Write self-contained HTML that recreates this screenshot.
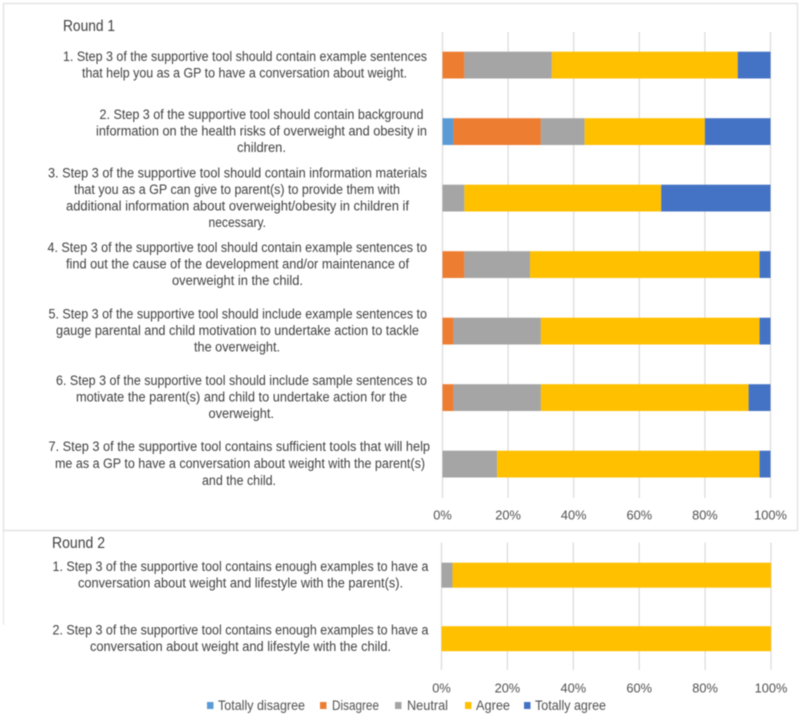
<!DOCTYPE html>
<html lang="en">
<head>
<meta charset="utf-8">
<title>Round 1 and Round 2 supportive tool survey responses</title>
<style>
html,body{margin:0;padding:0;background:#fff;}
body{width:800px;height:718px;overflow:hidden;}
svg{display:block;filter:blur(0.4px);}
text{font-family:"Liberation Sans",sans-serif;fill:#404040;}
.q{font-size:13.4px;}
.t{font-size:15.5px;}
.tick{font-size:12.8px;fill:#505050;text-anchor:middle;}
.leg{font-size:13.6px;fill:#505050;}
</style>
</head>
<body>
<svg id="chart" width="800" height="718" viewBox="0 0 800 718" xmlns="http://www.w3.org/2000/svg">
  <rect x="0" y="0" width="800" height="718" fill="#ffffff"/>
  <path d="M3.5 530.5V3.5H797.5V530.5H3.5" fill="none" stroke="#dedede" stroke-width="1.2"/>
  <path d="M3.5 530.5V625" fill="none" stroke="#e6e6e6" stroke-width="1.2"/>

  <g id="grid-layer"></g>
  <g id="bar-layer"></g>
  <g id="tick-layer"></g>

  <text class="t" x="63" y="31" textLength="52" lengthAdjust="spacingAndGlyphs">Round 1</text>

  <g>
    <g>
      <text class="q" x="63" y="61" textLength="364" lengthAdjust="spacingAndGlyphs">1. Step 3 of the supportive tool should contain example sentences</text>
      <text class="q" x="82" y="77.5" textLength="325" lengthAdjust="spacingAndGlyphs">that help you as a GP to have a conversation about weight.</text>
    </g>
    <g>
      <text class="q" x="99.5" y="119" textLength="324" lengthAdjust="spacingAndGlyphs">2. Step 3 of the supportive tool should contain background</text>
      <text class="q" x="96" y="135.5" textLength="331" lengthAdjust="spacingAndGlyphs">information on the health risks of overweight and obesity in</text>
      <text class="q" x="237" y="152" textLength="49" lengthAdjust="spacingAndGlyphs">children.</text>
    </g>
    <g>
      <text class="q" x="48" y="177.5" textLength="379" lengthAdjust="spacingAndGlyphs">3. Step 3 of the supportive tool should contain information materials</text>
      <text class="q" x="74" y="194" textLength="326" lengthAdjust="spacingAndGlyphs">that you as a GP can give to parent(s) to provide them with</text>
      <text class="q" x="66" y="210.5" textLength="343" lengthAdjust="spacingAndGlyphs">additional information about overweight/obesity in children if</text>
      <text class="q" x="208.5" y="227" textLength="57.5" lengthAdjust="spacingAndGlyphs">necessary.</text>
    </g>
    <g>
      <text class="q" x="47.5" y="252" textLength="379.5" lengthAdjust="spacingAndGlyphs">4. Step 3 of the supportive tool should contain example sentences to</text>
      <text class="q" x="66" y="268.5" textLength="343" lengthAdjust="spacingAndGlyphs">find out the cause of the development and/or maintenance of</text>
      <text class="q" x="172" y="285" textLength="131" lengthAdjust="spacingAndGlyphs">overweight in the child.</text>
    </g>
    <g>
      <text class="q" x="48.5" y="318.5" textLength="378.5" lengthAdjust="spacingAndGlyphs">5. Step 3 of the supportive tool should include example sentences to</text>
      <text class="q" x="56" y="335" textLength="363" lengthAdjust="spacingAndGlyphs">gauge parental and child motivation to undertake action to tackle</text>
      <text class="q" x="194" y="351.5" textLength="86" lengthAdjust="spacingAndGlyphs">the overweight.</text>
    </g>
    <g>
      <text class="q" x="56" y="385" textLength="371" lengthAdjust="spacingAndGlyphs">6. Step 3 of the supportive tool should include sample sentences to</text>
      <text class="q" x="76" y="401.5" textLength="331" lengthAdjust="spacingAndGlyphs">motivate the parent(s) and child to undertake action for the</text>
      <text class="q" x="208.5" y="418" textLength="65.5" lengthAdjust="spacingAndGlyphs">overweight.</text>
    </g>
    <g>
      <text class="q" x="48.5" y="451" textLength="381.5" lengthAdjust="spacingAndGlyphs">7. Step 3 of the supportive tool contains sufficient tools that will help</text>
      <text class="q" x="55" y="468" textLength="370" lengthAdjust="spacingAndGlyphs">me as a GP to have a conversation about weight with the parent(s)</text>
      <text class="q" x="202" y="485" textLength="74" lengthAdjust="spacingAndGlyphs">and the child.</text>
    </g>
  </g>

  <text class="t" x="52" y="548" textLength="53" lengthAdjust="spacingAndGlyphs">Round 2</text>

  <g>
    <g>
      <text class="q" x="52.5" y="571" textLength="376" lengthAdjust="spacingAndGlyphs">1. Step 3 of the supportive tool contains enough examples to have a</text>
      <text class="q" x="78" y="587.5" textLength="325" lengthAdjust="spacingAndGlyphs">conversation about weight and lifestyle with the parent(s).</text>
    </g>
    <g>
      <text class="q" x="52.5" y="634.5" textLength="376" lengthAdjust="spacingAndGlyphs">2. Step 3 of the supportive tool contains enough examples to have a</text>
      <text class="q" x="90" y="651" textLength="301" lengthAdjust="spacingAndGlyphs">conversation about weight and lifestyle with the child.</text>
    </g>
  </g>

  <g>
    <g>
      <rect x="207" y="702" width="6.5" height="7" fill="#5b9bd5"/>
      <text class="leg" x="218" y="710" textLength="87" lengthAdjust="spacingAndGlyphs">Totally disagree</text>
    </g>
    <g>
      <rect x="320" y="702" width="6.5" height="7" fill="#ed7d31"/>
      <text class="leg" x="332" y="710" textLength="47" lengthAdjust="spacingAndGlyphs">Disagree</text>
    </g>
    <g>
      <rect x="395" y="702" width="6.5" height="7" fill="#a5a5a5"/>
      <text class="leg" x="407" y="710" textLength="41" lengthAdjust="spacingAndGlyphs">Neutral</text>
    </g>
    <g>
      <rect x="465" y="702" width="6.5" height="7" fill="#ffc000"/>
      <text class="leg" x="476" y="710" textLength="34" lengthAdjust="spacingAndGlyphs">Agree</text>
    </g>
    <g>
      <rect x="524" y="702" width="6.5" height="7" fill="#4472c4"/>
      <text class="leg" x="535" y="710" textLength="71" lengthAdjust="spacingAndGlyphs">Totally agree</text>
    </g>
  </g>
</svg>
<script>
// Chart data (percent of respondents per response category)
const seriesNames = ['totally-disagree', 'disagree', 'neutral', 'agree', 'totally-agree'];
const tickValues = [0, 20, 40, 60, 80, 100];
const round1Categories = ['q1', 'q2', 'q3', 'q4', 'q5', 'q6', 'q7'];
const round1TotallyDisagree = [0, 3.33, 0, 0, 0, 0, 0];
const round1Disagree = [6.67, 26.67, 0, 6.67, 3.33, 3.33, 0];
const round1Neutral = [26.67, 13.33, 6.67, 20, 26.67, 26.67, 16.67];
const round1Agree = [56.67, 36.67, 60, 70, 66.67, 63.33, 80];
const round1TotallyAgree = [10, 20, 33.33, 3.33, 3.33, 6.67, 3.33];
const round2Categories = ['q1', 'q2'];
const round2TotallyDisagree = [0, 0];
const round2Disagree = [0, 0];
const round2Neutral = [3.33, 0];
const round2Agree = [96.67, 100];
const round2TotallyAgree = [0, 0];

const seriesColors = ['#5b9bd5', '#ed7d31', '#a5a5a5', '#ffc000', '#4472c4'];
const NS = 'http://www.w3.org/2000/svg';
const gridLayer = document.getElementById('grid-layer');
const barLayer = document.getElementById('bar-layer');
const tickLayer = document.getElementById('tick-layer');

function drawPanel(panel) {
  const xScale = function (v) {
    return panel.x0 + (panel.x100 - panel.x0) * v / 100;
  };
  const yScale = function (i) {
    return panel.firstBarTop + i * panel.step;
  };
  tickValues.forEach(function (t) {
    const line = document.createElementNS(NS, 'line');
    
    
    line.setAttribute('x1', xScale(t));
    line.setAttribute('x2', xScale(t));
    line.setAttribute('y1', panel.gridTop);
    line.setAttribute('y2', panel.gridBottom);
    line.setAttribute('stroke', '#dadada');
    line.setAttribute('stroke-width', '1.2');
    gridLayer.appendChild(line);

    const label = document.createElementNS(NS, 'text');
    
    
    label.setAttribute('class', 'tick');
    label.setAttribute('x', xScale(t));
    label.setAttribute('y', panel.tickY);
    label.textContent = t + '%';
    tickLayer.appendChild(label);
  });
  panel.categories.forEach(function (cat, i) {
    let cum = 0;
    panel.series.forEach(function (values, s) {
      const v = values[i];
      if (v > 0) {
        const bar = document.createElementNS(NS, 'rect');
        
        
        bar.setAttribute('data-series', seriesNames[s]);
        bar.setAttribute('data-category', panel.name + '-' + cat);
        bar.setAttribute('x', xScale(cum));
        bar.setAttribute('y', yScale(i));
        bar.setAttribute('width', xScale(cum + v) - xScale(cum));
        bar.setAttribute('height', panel.barHeight);
        bar.setAttribute('fill', seriesColors[s]);
        barLayer.appendChild(bar);
      }
      cum += v;
    });
  });
}

drawPanel({
  name: 'round-1', categories: round1Categories,
  series: [round1TotallyDisagree, round1Disagree, round1Neutral, round1Agree, round1TotallyAgree],
  x0: 442.5, x100: 770.5, firstBarTop: 51.7, step: 66.5, barHeight: 26.8,
  gridTop: 32, gridBottom: 498, tickY: 519.5
});
drawPanel({
  name: 'round-2', categories: round2Categories,
  series: [round2TotallyDisagree, round2Disagree, round2Neutral, round2Agree, round2TotallyAgree],
  x0: 441.5, x100: 771, firstBarTop: 562.7, step: 63.5, barHeight: 25,
  gridTop: 542.5, gridBottom: 670, tickY: 692.5
});
</script>
</body>
</html>
